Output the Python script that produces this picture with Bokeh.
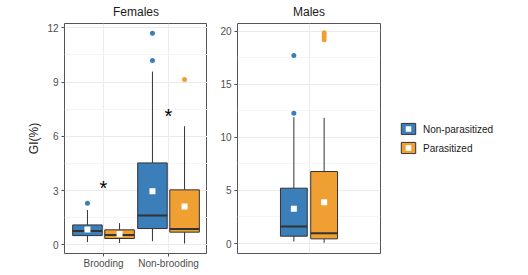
from bokeh.plotting import figure
from bokeh.layouts import row
from bokeh.models import (ColumnDataSource, FixedTicker, Range1d, Legend, LegendItem,
                          LinearAxis)
from bokeh.core.properties import value
from bokeh.embed import file_html
from bokeh.resources import INLINE

FONT = "Liberation Sans"
groups = ["Non-parasitized", "Parasitized"]
colors = ["#3A7EBA", "#F0A032"]

# ---- Females ----
f_cats = ["Brooding", "Non-brooding"]
f_cat = [1, 1, 2, 2]
f_group = ["Non-parasitized", "Parasitized", "Non-parasitized", "Parasitized"]
f_lo = [0.15, 0.10, 0.20, 0.07]
f_q1 = [0.51, 0.35, 0.90, 0.70]
f_med = [0.77, 0.55, 1.62, 0.88]
f_q3 = [1.10, 0.83, 4.53, 3.04]
f_hi = [1.93, 1.20, 9.58, 6.56]
f_mean = [0.85, 0.60, 2.96, 2.12]
f_out_cat = [1, 2, 2, 2]
f_out_group = ["Non-parasitized", "Non-parasitized", "Non-parasitized", "Parasitized"]
f_out_val = [2.30, 10.20, 11.70, 9.14]
f_star_cat = [1, 2]
f_star_y = [3.3, 7.3]
f_yticks = [0, 3, 6, 9, 12]

# ---- Males ----
m_cat = [1, 1]
m_group = ["Non-parasitized", "Parasitized"]
m_lo = [0.20, 0.07]
m_q1 = [0.69, 0.44]
m_med = [1.60, 0.97]
m_q3 = [5.21, 6.78]
m_hi = [11.90, 11.84]
m_mean = [3.27, 3.89]
m_out_cat = [1, 1, 1, 1, 1, 1]
m_out_group = ["Non-parasitized", "Non-parasitized", "Parasitized", "Parasitized", "Parasitized", "Parasitized"]
m_out_val = [12.27, 17.70, 19.20, 19.45, 19.65, 19.85]
m_yticks = [0, 5, 10, 15, 20]

DARK = "#333333"


def make_panel(title, left, right, xr, yr, yticks, yminor, xticks, xlabels):
    p = figure(frame_width=143, frame_height=230, x_range=Range1d(*xr), y_range=Range1d(*yr),
               output_backend="svg", toolbar_location=None,
               min_border_left=left, min_border_right=right, min_border_top=23, min_border_bottom=22)
    p.title = None
    bottom = p.below[0]
    left_ax = p.left[0]
    # panel (strip) title drawn as the label of an empty top axis
    top = LinearAxis(ticker=FixedTicker(ticks=[], minor_ticks=[]), axis_label=title,
                     axis_line_color=None, major_tick_line_color=None, minor_tick_line_color=None,
                     major_tick_out=0, major_tick_in=0, minor_tick_out=0, minor_tick_in=0,
                     major_label_standoff=0,
                     axis_label_standoff=5, axis_label_text_font=FONT,
                     axis_label_text_font_size="12px", axis_label_text_font_style="normal",
                     axis_label_text_color="#1a1a1a")
    p.add_layout(top, "above")
    p.outline_line_color = "#555555"
    p.outline_line_width = 1
    p.background_fill_color = "white"
    p.border_fill_color = "white"
    bottom.ticker = FixedTicker(ticks=xticks, minor_ticks=[])
    bottom.major_label_overrides = {t: l for t, l in zip(xticks, xlabels)}
    left_ax.ticker = FixedTicker(ticks=yticks, minor_ticks=yminor)
    for ax in (bottom, left_ax):
        ax.axis_line_color = None
        ax.major_tick_line_color = "#4d4d4d"
        ax.major_tick_out = 3
        ax.major_tick_in = 0
        ax.minor_tick_line_color = None
        ax.major_label_text_font = FONT
        ax.major_label_text_font_size = "10px"
        ax.major_label_text_color = "#4d4d4d"
        ax.major_label_standoff = 2
    bottom.major_label_standoff = 1
    p.xgrid.grid_line_color = "#EBEBEB"
    p.xgrid.ticker = FixedTicker(ticks=xticks, minor_ticks=[])
    p.ygrid.grid_line_color = "#EBEBEB"
    p.ygrid.minor_grid_line_color = "#F5F5F5"
    return p, bottom, left_ax


def draw(p, cat, grp, lo, q1, med, q3, hi, mean, ocat, ogrp, oval, off, w):
    sign = {groups[0]: -1, groups[1]: 1}
    x = [c + sign[g] * off for c, g in zip(cat, grp)]
    col = [colors[groups.index(g)] for g in grp]
    src = ColumnDataSource(dict(x=x, xl=[v - w / 2 for v in x], xr=[v + w / 2 for v in x],
                                lo=lo, q1=q1, med=med, q3=q3, hi=hi, mean=mean, color=col))
    p.segment(x0="x", y0="lo", x1="x", y1="q1", source=src, line_color=DARK, line_width=1)
    p.segment(x0="x", y0="q3", x1="x", y1="hi", source=src, line_color=DARK, line_width=1)
    rbox = p.vbar(x="x", width=w, bottom="q1", top="q3", source=src, fill_color="color",
                  line_color=DARK, line_width=1)
    p.segment(x0="xl", y0="med", x1="xr", y1="med", source=src, line_color=DARK, line_width=2)
    rmean = p.scatter(x="x", y="mean", source=src, marker="square", size=6,
                      fill_color="white", line_color=None)
    ox = [c + sign[g] * off for c, g in zip(ocat, ogrp)]
    ocol = [colors[groups.index(g)] for g in ogrp]
    osrc = ColumnDataSource(dict(x=ox, y=oval, color=ocol))
    p.scatter(x="x", y="y", source=osrc, marker="circle", size=5, fill_color="color", line_color=None)
    return rbox, rmean


# Females panel
pf, pf_bottom, pf_left = make_panel("Females", 64, 0, (0.4, 2.6), (-0.48, 12.24), f_yticks,
                                    [1.5, 4.5, 7.5, 10.5], [1, 2], f_cats)
pf_left.axis_label = "GI(%)"
pf_left.axis_label_text_font = FONT
pf_left.axis_label_text_font_size = "12px"
pf_left.axis_label_text_font_style = "normal"
pf_left.axis_label_text_color = "#1a1a1a"
pf_left.axis_label_standoff = 3
draw(pf, f_cat, f_group, f_lo, f_q1, f_med, f_q3, f_hi, f_mean,
     f_out_cat, f_out_group, f_out_val, 0.247, 0.455)
pf.text(x=f_star_cat, y=f_star_y, text=["*"] * len(f_star_cat), text_font=value(FONT),
        text_font_size="20px", text_align="center", text_baseline="middle",
        text_color="black", y_offset=3)

# Males panel
pm, pm_bottom, pm_left = make_panel("Males", 30, 146, (0.4, 1.6), (-0.94, 20.72), m_yticks,
                                    [2.5, 7.5, 12.5, 17.5], [1], [""])
pm_bottom.major_tick_line_color = None
mbox, mmean = draw(pm, m_cat, m_group, m_lo, m_q1, m_med, m_q3, m_hi, m_mean,
                   m_out_cat, m_out_group, m_out_val, 0.127, 0.225)

# Legend (uses the male boxes, one row per group)
items = [LegendItem(label=g, renderers=[mbox, mmean], index=m_group.index(g)) for g in groups]
leg = Legend(items=items, location="center_left", border_line_color=None,
             background_fill_color=None, label_text_font=FONT, label_text_font_size="10px",
             label_text_color="#1a1a1a", glyph_width=18, glyph_height=14, label_height=16,
             spacing=3, padding=12, margin=19, label_standoff=6)
pm.add_layout(leg, "right")

layout = row(pf, pm)
open("out.html", "w").write(file_html(layout, INLINE))
